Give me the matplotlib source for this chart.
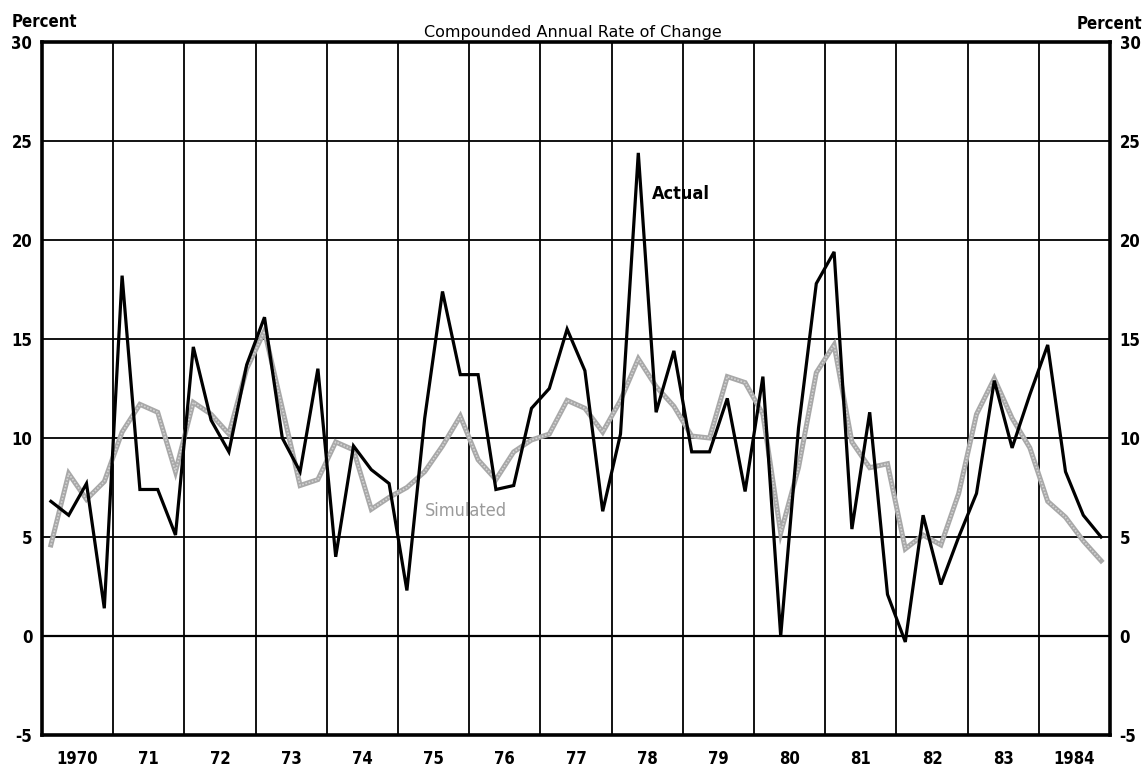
import numpy as np
import matplotlib.pyplot as plt

# Quarterly compounded annual rates of change, 1970Q1 - 1984Q4
years = list(range(1970, 1985))
year_labels = ['1970', '71', '72', '73', '74', '75', '76', '77',
               '78', '79', '80', '81', '82', '83', '1984']
y_ticks = [-5, 0, 5, 10, 15, 20, 25, 30]

actual = [
    6.8, 6.1, 7.7, 1.4,        # 1970
    18.2, 7.4, 7.4, 5.1,       # 1971
    14.6, 10.9, 9.3, 13.7,     # 1972
    16.1, 10.0, 8.3, 13.5,     # 1973
    4.0, 9.6, 8.4, 7.7,        # 1974
    2.3, 11.0, 17.4, 13.2,     # 1975
    13.2, 7.4, 7.6, 11.5,      # 1976
    12.5, 15.5, 13.4, 6.3,     # 1977
    10.2, 24.4, 11.3, 14.4,    # 1978
    9.3, 9.3, 12.0, 7.3,       # 1979
    13.1, 0.0, 10.5, 17.8,     # 1980
    19.4, 5.4, 11.3, 2.1,      # 1981
    -0.3, 6.1, 2.6, 5.0,       # 1982
    7.2, 12.9, 9.5, 12.2,      # 1983
    14.7, 8.3, 6.1, 5.0,       # 1984
]

simulated = [
    4.6, 8.2, 6.9, 7.8,
    10.3, 11.7, 11.3, 8.3,
    11.8, 11.2, 10.2, 13.5,
    15.4, 11.5, 7.6, 7.9,
    9.8, 9.4, 6.4, 7.0,
    7.5, 8.3, 9.6, 11.1,
    8.9, 7.9, 9.3, 9.9,
    10.2, 11.9, 11.5, 10.3,
    11.9, 14.0, 12.6, 11.6,
    10.1, 10.0, 13.1, 12.8,
    11.2, 5.2, 8.5, 13.3,
    14.7, 9.8, 8.5, 8.7,
    4.4, 5.1, 4.6, 7.2,
    11.2, 13.0, 11.0, 9.5,
    6.8, 6.0, 4.8, 3.8,
]

# plot each quarter at its midpoint
x = 1970 + (np.arange(len(actual)) + 0.5) / 4

W, H = 1145, 769
fig = plt.figure(figsize=(W / 100, H / 100), dpi=100)
ax = fig.add_axes([42 / W, 1 - 735 / H, (1110 - 42) / W, (735 - 42) / H])

ax.set_xlim(1970, 1985)
ax.set_ylim(-5, 30)

# year and 5-point grid
for yr in years[1:]:
    ax.axvline(yr, color='black', lw=1.3, zorder=1)
for v in y_ticks[1:-1]:
    ax.axhline(v, color='black', lw=1.3 if v != 0 else 1.6, zorder=1)

ax.plot(x, simulated, color='#a8a8a8', lw=3.6, solid_joinstyle='miter', zorder=2)
ax.plot(x, simulated, color='#d4d4d4', lw=1.2, ls=(0, (1, 1)), zorder=2)
ax.plot(x, actual, color='black', lw=2.3, solid_joinstyle='miter', zorder=3)

for side in ax.spines.values():
    side.set_linewidth(2.6)

bold = dict(family='DejaVu Sans', fontstretch='condensed', fontweight='bold')

ax.set_xticks([])
ax.set_yticks(y_ticks)
ax.set_yticklabels([str(v) for v in y_ticks], fontsize=12, **bold)
ax.tick_params(axis='y', length=0, labelleft=True, labelright=True)
for t in ax.yaxis.get_major_ticks():
    t.set_pad(7)
    t.label1.set_horizontalalignment('right')
    t.label2.set_horizontalalignment('left')
    t.label2.set_fontstretch('condensed')
    t.label2.set_fontweight('bold')

for yr, lab in zip(years, year_labels):
    ax.text(yr + 0.5, -5.75, lab, ha='center', va='top', fontsize=12, **bold)

ax.text(1978.57, 22.3, 'Actual', fontsize=13, va='center', **bold)
ax.text(1975.38, 6.3, 'Simulated', fontsize=13, va='center', color='#9a9a9a',
        family='DejaVu Sans', fontstretch='condensed')

fig.text(12 / W, 1 - 22 / H, 'Percent', fontsize=12, va='center', **bold)
fig.text(1142 / W, 1 - 24 / H, 'Percent', fontsize=12, va='center', ha='right', **bold)
fig.text(573 / W, 1 - 32 / H, 'Compounded Annual Rate of Change', fontsize=11.5,
         ha='center', va='center', family='DejaVu Sans')

fig.savefig('out.png', dpi=100, facecolor='white')
